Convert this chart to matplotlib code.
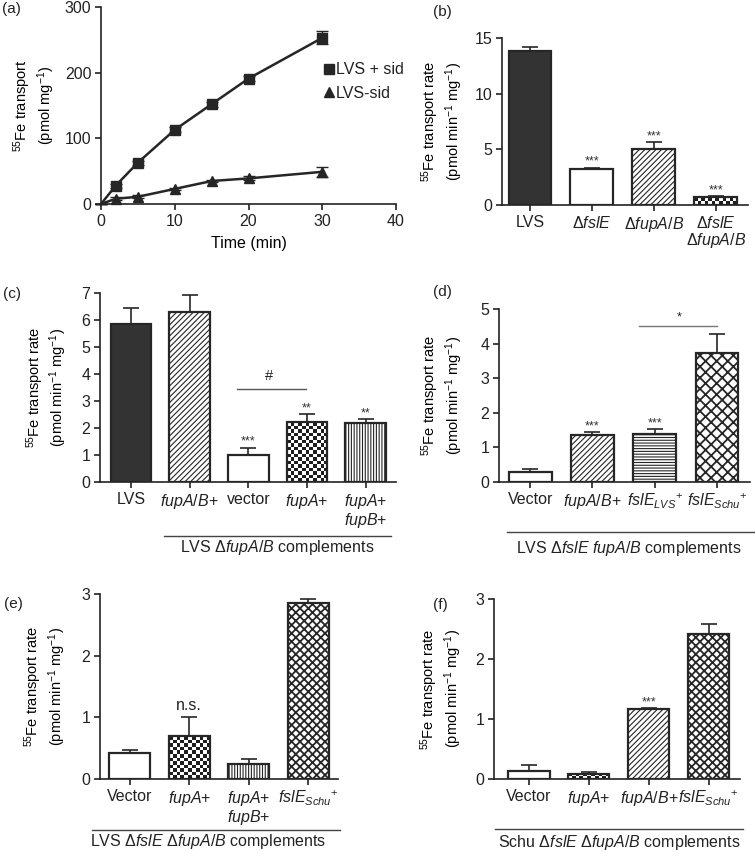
import numpy as np
import matplotlib
matplotlib.use('Agg')
import matplotlib.pyplot as plt
from matplotlib.colors import ListedColormap
from matplotlib.lines import Line2D

plt.rcParams['font.family'] = ['Liberation Sans', 'DejaVu Sans']
plt.rcParams['mathtext.fontset'] = 'custom'
plt.rcParams['mathtext.rm'] = 'Liberation Sans'
plt.rcParams['mathtext.it'] = 'Liberation Sans:italic'
plt.rcParams['mathtext.bf'] = 'Liberation Sans:bold'
plt.rcParams['mathtext.sf'] = 'Liberation Sans'
plt.rcParams['hatch.linewidth'] = 0.8
plt.rcParams['text.color'] = '#222222'
plt.rcParams['axes.edgecolor'] = '#222222'
plt.rcParams['xtick.color'] = '#222222'
plt.rcParams['ytick.color'] = '#222222'

# (a) time course
time_min = [0, 2, 5, 10, 15, 20, 30]
lvs_sid = [0, 28, 63, 113, 152, 191, 253]
lvs_sid_err = [0, 3, 3, 4, 4, 4, 10]
lvs_nosid = [0, 8, 11, 23, 35, 39, 49]
lvs_nosid_err = [0, 2, 2, 2, 2, 3, 8]

# (b)
b_labels = ['LVS', r'$\Delta fslE$', r'$\Delta fupA/B$', '$\\Delta fslE$\n$\\Delta fupA/B$']
b_vals = [13.8, 3.25, 5.05, 0.72]
b_err = [0.4, 0.08, 0.6, 0.08]
b_sig = ['', '***', '***', '***']

# (c)
c_labels = ['LVS', '$fupA/B$+', 'vector', '$fupA$+', '$fupA$+\n$fupB$+']
c_vals = [5.85, 6.28, 1.0, 2.22, 2.18]
c_err = [0.58, 0.65, 0.27, 0.28, 0.14]
c_sig = ['', '', '***', '**', '**']

# (d)
d_labels = ['Vector', '$fupA/B$+', '$fslE_{LVS}{}^{+}$', '$fslE_{Schu}{}^{+}$']
d_vals = [0.28, 1.36, 1.38, 3.72]
d_err = [0.09, 0.08, 0.14, 0.55]
d_sig = ['', '***', '***', '']

# (e)
e_labels = ['Vector', '$fupA$+', '$fupA$+\n$fupB$+', '$fslE_{Schu}{}^{+}$']
e_vals = [0.42, 0.69, 0.25, 2.85]
e_err = [0.05, 0.31, 0.08, 0.07]
e_sig = ['', 'n.s.', '', '']

# (f)
f_labels = ['Vector', '$fupA$+', '$fupA/B$+', '$fslE_{Schu}{}^{+}$']
f_vals = [0.13, 0.09, 1.16, 2.42]
f_err = [0.10, 0.03, 0.02, 0.17]
f_sig = ['', '', '***', '']

W, H = 755, 852
EDGE = '#262626'
DARK = '#333333'
FS = 11.5
RATE_LABEL = '$^{55}$Fe transport rate\n(pmol min$^{-1}$ mg$^{-1}$)'

fig = plt.figure(figsize=(W / 100, H / 100), dpi=100)


def px_axes(x0, x1, y0, y1):
    # pixel box (top-left origin) -> axes
    return fig.add_axes([x0 / W, 1 - y1 / H, (x1 - x0) / W, (y1 - y0) / H])


def style(ax):
    ax.spines['top'].set_visible(False)
    ax.spines['right'].set_visible(False)
    for s in ['left', 'bottom']:
        ax.spines[s].set_linewidth(1.2)
    ax.tick_params(direction='out', length=4, width=1.2, labelsize=FS, pad=3)


def checker(ax, xi, v, width, cell=3.6):
    x0, x1 = xi - width / 2, xi + width / 2
    (p0x, p0y), (p1x, p1y) = ax.transData.transform([(x0, 0), (x1, v)])
    nx = max(1, int(round((p1x - p0x) / cell)))
    ny = max(1, int(round((p1y - p0y) / cell)))
    grid = np.indices((ny, nx)).sum(axis=0) % 2
    ax.imshow(grid, cmap=ListedColormap(['white', '#1e1e1e']), extent=(x0, x1, 0, v),
              origin='lower', aspect='auto', interpolation='nearest', zorder=2.5)


def bar_panel(box, vals, errs, labels, fills, sig, ymax, ystep, xlim, ylab_x):
    ax = px_axes(*box)
    style(ax)
    x = np.arange(len(vals))
    width = 0.69
    ax.set_xlim(*xlim)
    ax.set_ylim(0, ymax)
    for xi, v, f in zip(x, vals, fills):
        if f == 'dark':
            ax.bar(xi, v, width, color=DARK, edgecolor=EDGE, linewidth=1.6, zorder=3)
        elif f == 'checker':
            checker(ax, xi, v, width)
            ax.bar(xi, v, width, facecolor='none', edgecolor=EDGE, linewidth=1.6, zorder=3)
        else:
            bars = ax.bar(xi, v, width, facecolor='white', edgecolor=EDGE,
                          hatch=f if f != 'white' else None, linewidth=1.6, zorder=3)
            if f.startswith('x'):
                for b in bars:
                    if hasattr(b, 'set_hatch_linewidth'):
                        b.set_hatch_linewidth(1.3)
    ax.errorbar(x, vals, yerr=[np.zeros(len(vals)), errs], fmt='none', ecolor=EDGE,
                elinewidth=1.2, capsize=6, capthick=1.2, zorder=2)
    for xi, v, e, s in zip(x, vals, errs, sig):
        if s:
            if s == 'n.s.':
                ax.annotate(s, (xi, v + e), xytext=(0, 3), textcoords='offset points',
                            ha='center', va='bottom', fontsize=FS)
            else:
                ax.annotate(s, (xi, v + e), xytext=(0, 0), textcoords='offset points',
                            ha='center', va='bottom', fontsize=9, color='#333333')
    ax.set_xlim(*xlim)
    ax.set_ylim(0, ymax)
    ax.set_yticks(np.arange(0, ymax + 0.01, ystep))
    ax.set_xticks(x)
    ax.set_xticklabels(labels, fontsize=FS, linespacing=1.05)
    ax.set_ylabel(RATE_LABEL, fontsize=10.5, va='center', linespacing=1.15)
    ax.yaxis.set_label_coords(ylab_x, 0.5)
    return ax


def group_label(ax, x0, x1, yline, text, ytext, xtext):
    ax.plot([x0, x1], [yline, yline], transform=ax.get_xaxis_transform(), color='#444444',
            lw=1.0, clip_on=False)
    ax.text(xtext, ytext, text, transform=ax.get_xaxis_transform(), ha='center', va='center',
            fontsize=FS)


# ---- (a)
ax = px_axes(101, 396, 7, 204)
style(ax)
ax.errorbar(time_min, lvs_sid, yerr=lvs_sid_err, color=EDGE, lw=1.8, marker='s', ms=7,
            markevery=slice(1, None), capsize=4, elinewidth=1, capthick=1, clip_on=False, zorder=3)
ax.errorbar(time_min, lvs_nosid, yerr=lvs_nosid_err, color=EDGE, lw=1.8, marker='^', ms=6.5,
            markevery=slice(1, None), capsize=4, elinewidth=1, capthick=1, clip_on=False, zorder=3)
ax.set_xlim(0, 40)
ax.set_ylim(0, 300)
ax.set_xticks([0, 10, 20, 30, 40])
ax.set_yticks([0, 100, 200, 300])
ax.set_xlabel('Time (min)', fontsize=FS, labelpad=5)
ax.set_ylabel('$^{55}$Fe transport\n(pmol mg$^{-1}$)', fontsize=10.5, va='center', linespacing=1.15)
ax.yaxis.set_label_coords(-0.227, 0.5)
handles = [Line2D([], [], color=EDGE, marker='s', ls='none', ms=7),
           Line2D([], [], color=EDGE, marker='^', ls='none', ms=6.5)]
ax.legend(handles, ['LVS + sid', 'LVS-sid'], loc='upper left', bbox_to_anchor=(0.76, 0.72),
          frameon=False, handlelength=0.5, handletextpad=0.15, borderpad=0, borderaxespad=0,
          labelspacing=0.55, fontsize=FS)

# ---- (b)
bar_panel((502, 748, 38, 205), b_vals, b_err, b_labels,
          ['dark', 'white', '//////', 'checker'], b_sig, 15, 5, (-0.45, 3.52), -0.244)

# ---- (c)
axc = bar_panel((100, 396, 293, 482), c_vals, c_err, c_labels,
                ['dark', '//////', 'white', 'checker', '||||||'], c_sig, 7, 1, (-0.53, 4.52), -0.18)
axc.plot([1.81, 2.98], [3.46, 3.46], color='#555555', lw=1.0)
axc.text(2.35, 3.68, '#', ha='center', va='bottom', fontsize=10.5)
group_label(axc, 0.56, 4.44, -0.286, r'LVS $\Delta fupA/B$ complements', -0.345, 2.5)

# ---- (d)
axd = bar_panel((499, 750, 309, 482), d_vals, d_err, d_labels,
                ['white', '//////', '------', 'xxx'], d_sig, 5, 1, (-0.5, 3.53), -0.227)
axd.plot([1.74, 3.0], [4.52, 4.52], color='#777777', lw=1.0)
axd.text(2.4, 4.58, '*', ha='center', va='bottom', fontsize=9)
group_label(axd, -0.37, 3.62, -0.29, r'LVS $\Delta fslE$ $fupA/B$ complements', -0.385, 1.58)

# ---- (e)
axe = bar_panel((100, 338, 594, 779), e_vals, e_err, e_labels,
                ['white', 'checker', '||||||', 'xxxx'], e_sig, 3, 1, (-0.5, 3.5), -0.231)
group_label(axe, -0.64, 3.54, -0.276, r'LVS $\Delta fslE$ $\Delta fupA/B$ complements', -0.34, 1.32)

# ---- (f)
axf = bar_panel((494, 740, 599, 779), f_vals, f_err, f_labels,
                ['white', 'checker', '//////', 'xxxx'], f_sig, 3, 1, (-0.58, 3.52), -0.215)
group_label(axf, -0.57, 3.57, -0.278, r'Schu $\Delta fslE$ $\Delta fupA/B$ complements', -0.35, 1.5)

# panel letters
for lab, x, y in [('(a)', 2, 2), ('(b)', 433, 5), ('(c)', 3, 287), ('(d)', 433, 285),
                  ('(e)', 4, 597), ('(f)', 433, 598)]:
    fig.text(x / W, 1 - y / H, lab, ha='left', va='top', fontsize=11)

fig.savefig('out.png', dpi=100)
